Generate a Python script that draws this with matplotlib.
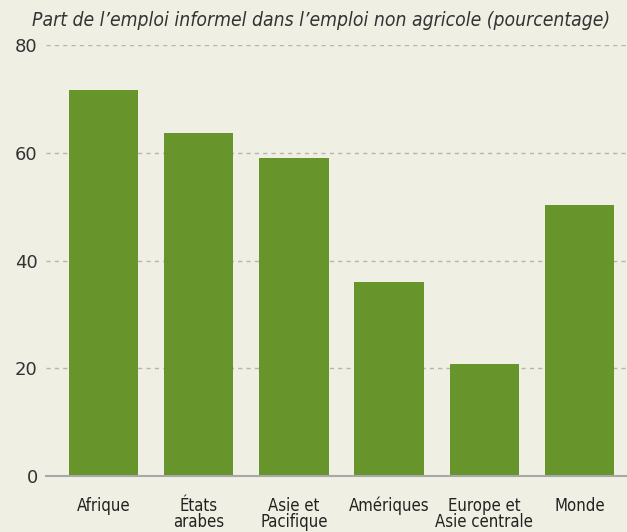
import matplotlib.pyplot as plt
import numpy as np

regions = ["Afrique", "États\narabes", "Asie et\nPacifique", "Amériques",
           "Europe et\nAsie centrale", "Monde"]
shares = [71.7, 63.7, 59.0, 36.0, 20.8, 50.3]
yticks = [0, 20, 40, 60, 80]

bg = "#eff0e3"
green = "#67952b"

plt.rcParams["font.family"] = ["DejaVu Sans"]
plt.rcParams["font.stretch"] = "condensed"

fig = plt.figure(figsize=(6.27, 5.32), dpi=100, facecolor=bg)
ax = fig.add_axes([46 / 627, 1 - 476 / 532, 1 - 46 / 627, (476 - 45) / 532])
ax.set_facecolor(bg)

x = np.arange(len(regions))
ax.bar(x, shares, width=0.73, color=green, zorder=3)

ax.set_ylim(0, 80)
ax.set_xlim(-0.605, 5.5)
ax.set_yticks(yticks)
ax.set_yticklabels([str(v) for v in yticks], fontsize=13, color="#333333",
                   fontstretch="normal")
ax.set_xticks(x)
ax.set_xticklabels(regions, fontsize=12, color="#222222", linespacing=0.85)
ax.tick_params(axis="both", length=0)
ax.tick_params(axis="y", pad=6)
ax.tick_params(axis="x", pad=15)

ax.yaxis.grid(True, linestyle=(0, (3, 3)), color="#b5b5b0", linewidth=1, zorder=0)
for s in ["top", "right", "left"]:
    ax.spines[s].set_visible(False)
ax.spines["bottom"].set_color("#a8a8a8")
ax.spines["bottom"].set_linewidth(1.5)
ax.spines["bottom"].set_zorder(4)

fig.text(32 / 627, 1 - 20 / 532, "Part de l’emploi informel dans l’emploi non agricole (pourcentage)",
         fontsize=13.9, style="italic", color="#333333", va="center", ha="left")

fig.savefig("out.png", dpi=100, facecolor=bg)
